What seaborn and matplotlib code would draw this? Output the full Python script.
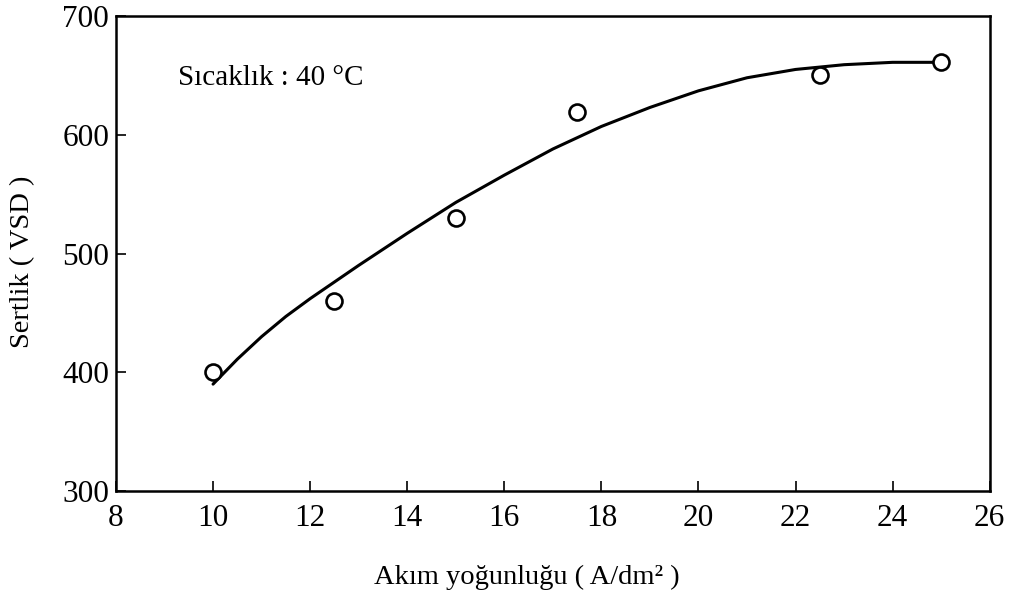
import matplotlib
matplotlib.use("Agg")
import matplotlib.pyplot as plt
import seaborn as sns
import pandas as pd

# Measured points
current_density = [10, 12.5, 15, 17.5, 22.5, 25]
hardness = [400, 460, 530, 619, 650, 661]

# Fitted curve
curve_x = [10, 10.5, 11, 11.5, 12, 13, 14, 15, 16, 17, 18, 19, 20, 21, 22, 23, 24, 25]
curve_y = [390, 411, 430, 447, 462, 490, 517, 543, 566, 588, 607, 623, 637, 648, 655, 659, 661, 661]

x_ticks = [8, 10, 12, 14, 16, 18, 20, 22, 24, 26]
y_ticks = [300, 400, 500, 600, 700]

sns.set_theme(style="white")
plt.rcParams['font.family'] = ['Liberation Serif', 'DejaVu Serif']

fig = plt.figure(figsize=(10.12, 5.93), dpi=100)
ax = fig.add_axes([0.1146, 0.172, 0.8634, 0.801])

df_pts = pd.DataFrame({"x": current_density, "y": hardness})
df_curve = pd.DataFrame({"x": curve_x, "y": curve_y})

sns.lineplot(data=df_curve, x="x", y="y", ax=ax, color="black", linewidth=2.2, sort=True)
ax.plot(df_pts["x"], df_pts["y"], linestyle="none", marker="o", markersize=11.5,
        markerfacecolor="white", markeredgecolor="black", markeredgewidth=1.9, zorder=3)

ax.set_xlim(8, 26)
ax.set_ylim(300, 700)
ax.set_xticks(x_ticks)
ax.set_yticks(y_ticks)
ax.tick_params(axis="both", direction="in", length=7, width=1.2, labelsize=22.5,
               colors="black", bottom=True, left=True, top=False, right=False)
ax.tick_params(axis="x", pad=9)
ax.tick_params(axis="y", pad=5)
for s in ax.spines.values():
    s.set_color("black")
    s.set_linewidth(1.8)

ax.set_xlabel("Akım yoğunluğu ( A/dm² )", fontsize=20.5, color="black")
ax.set_ylabel("Sertlik ( VSD )", fontsize=20.5, color="black")
ax.xaxis.set_label_coords(0.47, -0.155)
ax.yaxis.set_label_coords(-0.093, 0.482)

ax.text(9.28, 648, "Sıcaklık : 40 °C", fontsize=21, color="black", va="center", ha="left")

fig.savefig("out.png", dpi=100, facecolor="white")
